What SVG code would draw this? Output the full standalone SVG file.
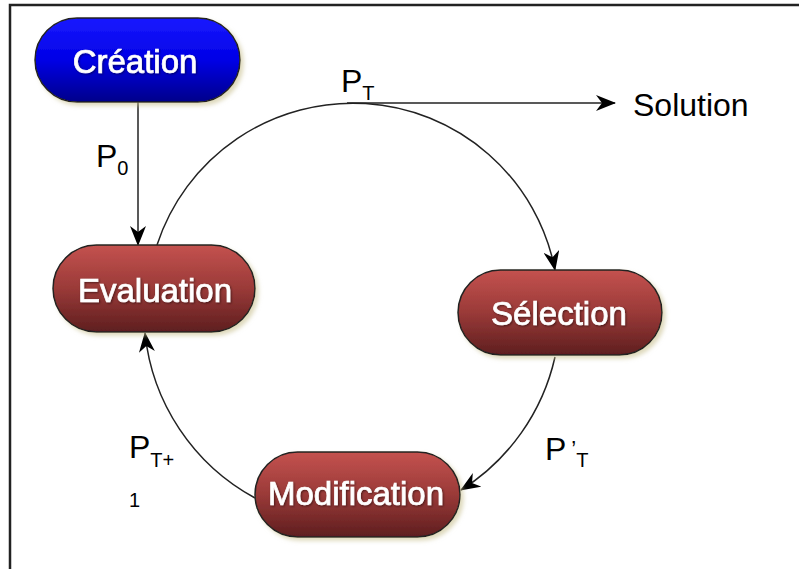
<svg xmlns="http://www.w3.org/2000/svg" width="799" height="569" viewBox="0 0 799 569">
<defs>
<linearGradient id="gBlue" x1="0" y1="0" x2="0" y2="1">
<stop offset="0" stop-color="#1a1aff"/>
<stop offset="0.5" stop-color="#0000e6"/>
<stop offset="1" stop-color="#00008a"/>
</linearGradient>
<linearGradient id="gRed" x1="0" y1="0" x2="0" y2="1">
<stop offset="0" stop-color="#c4524f"/>
<stop offset="0.5" stop-color="#9a3a38"/>
<stop offset="1" stop-color="#5e1e1f"/>
</linearGradient>
<filter id="sh" x="-10%" y="-10%" width="125%" height="130%">
<feGaussianBlur in="SourceAlpha" stdDeviation="2"/>
<feOffset dx="3" dy="3" result="b"/>
<feFlood flood-color="#c8c090" flood-opacity="0.6"/>
<feComposite in2="b" operator="in"/>
<feMerge><feMergeNode/><feMergeNode in="SourceGraphic"/></feMerge>
</filter>
<filter id="tg" x="-10%" y="-20%" width="120%" height="140%">
<feGaussianBlur in="SourceAlpha" stdDeviation="1"/>
<feOffset dx="0.5" dy="0.5" result="b"/>
<feFlood flood-color="#000" flood-opacity="0.5"/>
<feComposite in2="b" operator="in"/>
<feMerge><feMergeNode/><feMergeNode in="SourceGraphic"/></feMerge>
</filter>
<marker id="arr" viewBox="0 0 20 16" refX="19" refY="8" markerWidth="20" markerHeight="16" markerUnits="userSpaceOnUse" orient="auto">
<path d="M0,0 L20,8 L0,16 L6,8 z" fill="#000"/>
</marker>
</defs>
<style>
.node rect{stroke:#222;stroke-width:1.5}
.nt{font-family:"Liberation Sans",Arial,sans-serif;font-size:33px;fill:#fff;stroke:#fff;stroke-width:0.7;text-anchor:middle}
.lbl{font-family:"Liberation Sans",Arial,sans-serif;fill:#000}
.conn path,.conn line{fill:none;stroke:#222;stroke-width:1.5;marker-end:url(#arr)}
</style>
<rect width="799" height="569" fill="#fff"/>
<path d="M10,569 V5 H799" fill="none" stroke="#222" stroke-width="2.5"/>
<g class="conn">
<line x1="138" y1="102" x2="138" y2="245"/>
<path d="M157,245 A206,206 0 0 1 555,270"/>
<line x1="347" y1="103" x2="615" y2="103"/>
<path d="M555,357 A212,212 0 0 1 461,490"/>
<path d="M255,498 A212,212 0 0 1 145,333"/>
</g>
<g id="creation" class="node" filter="url(#sh)">
<rect x="35" y="18" width="205" height="84" rx="42" fill="url(#gBlue)"/>
<text class="nt" x="135" y="73" filter="url(#tg)">Création</text>
</g>
<g id="evaluation" class="node" filter="url(#sh)">
<rect x="53" y="245" width="202" height="87" rx="43.5" fill="url(#gRed)"/>
<text class="nt" x="155" y="302" filter="url(#tg)">Evaluation</text>
</g>
<g id="selection" class="node" filter="url(#sh)">
<rect x="458" y="270" width="204" height="85" rx="42.5" fill="url(#gRed)"/>
<text class="nt" x="559" y="325" filter="url(#tg)">Sélection</text>
</g>
<g id="modification" class="node" filter="url(#sh)">
<rect x="255" y="452" width="205" height="85" rx="42.5" fill="url(#gRed)"/>
<text class="nt" x="356" y="505" filter="url(#tg)">Modification</text>
</g>
<g id="labels">
<text class="lbl" x="341" y="92" font-size="32">P<tspan font-size="20" dy="8">T</tspan></text>
<text class="lbl" x="633" y="116" font-size="32">Solution</text>
<text class="lbl" x="96" y="167" font-size="32">P<tspan font-size="20" dy="8">0</tspan></text>
<text class="lbl" x="129" y="458" font-size="32">P<tspan font-size="20" dy="9">T+</tspan></text>
<text class="lbl" x="129" y="507" font-size="20">1</text>
<text class="lbl" x="545" y="460" font-size="32">P<tspan dx="5" font-size="22" dy="-4">’</tspan><tspan font-size="20" dy="11">T</tspan></text>
</g>
</svg>
